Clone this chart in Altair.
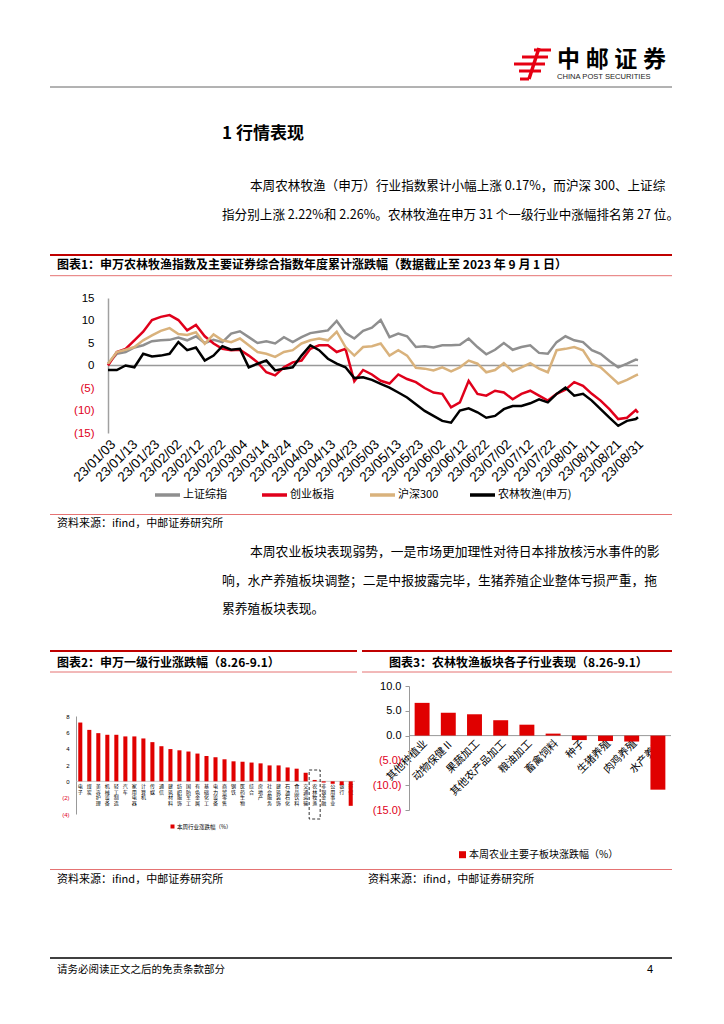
import altair as alt
import pandas as pd

FONT = "Noto Sans CJK SC"
LATIN = "Liberation Sans"

# ---------------- data: chart 1 (cumulative change, %) ----------------
dates = ["2023-01-03", "2023-01-07", "2023-01-11", "2023-01-15", "2023-01-19", "2023-01-23",
         "2023-01-27", "2023-01-31", "2023-02-04", "2023-02-08", "2023-02-12", "2023-02-16",
         "2023-02-20", "2023-02-24", "2023-02-28", "2023-03-04", "2023-03-08", "2023-03-12",
         "2023-03-16", "2023-03-20", "2023-03-24", "2023-03-28", "2023-04-01", "2023-04-05",
         "2023-04-09", "2023-04-13", "2023-04-17", "2023-04-21", "2023-04-25", "2023-04-29",
         "2023-05-03", "2023-05-07", "2023-05-11", "2023-05-15", "2023-05-19", "2023-05-23",
         "2023-05-27", "2023-05-31", "2023-06-04", "2023-06-08", "2023-06-12", "2023-06-16",
         "2023-06-20", "2023-06-24", "2023-06-28", "2023-07-02", "2023-07-06", "2023-07-10",
         "2023-07-14", "2023-07-18", "2023-07-22", "2023-07-26", "2023-07-30", "2023-08-03",
         "2023-08-07", "2023-08-11", "2023-08-15", "2023-08-19", "2023-08-23", "2023-08-27",
         "2023-08-31", "2023-09-01"]
sh_composite = [0.4, 2.6, 3.0, 4.0, 4.5, 5.4, 5.6, 5.7, 6.2, 5.6,
                6.5, 5.0, 5.7, 5.2, 7.1, 7.6, 6.3, 5.0, 5.4, 4.9,
                6.3, 5.2, 6.3, 7.2, 7.5, 7.8, 9.9, 7.2, 6.0, 7.7,
                8.4, 10.1, 6.3, 7.1, 6.5, 4.1, 4.3, 4.0, 4.5, 4.5,
                4.6, 6.0, 4.1, 2.5, 3.5, 5.0, 3.5, 4.1, 4.5, 2.8,
                2.6, 5.2, 6.5, 5.6, 5.2, 3.4, 2.6, 1.0, -0.4, 0.4,
                1.3, 1.2]
chinext = [0.0, 3.0, 3.7, 5.6, 7.5, 10.1, 10.8, 11.2, 10.1, 7.8,
           9.0, 6.5, 4.9, 3.7, 3.4, 3.5, 2.2, 0.7, -1.5, -2.2,
           -0.4, 0.7, 1.1, 3.7, 4.5, 4.5, 3.0, 3.7, -3.5, -1.0,
           -2.0, -3.4, -4.0, -2.0, -3.0, -3.7, -5.0, -6.0, -6.3, -9.3,
           -8.2, -3.4, -6.3, -6.7, -5.6, -6.0, -7.5, -6.3, -5.6, -6.7,
           -7.8, -6.3, -5.4, -3.7, -4.5, -6.3, -7.8, -9.7, -11.9, -11.6,
           -9.9, -10.5]
csi300 = [0.4, 3.0, 3.5, 4.1, 5.6, 6.7, 7.7, 8.3, 7.0, 6.8,
          7.4, 4.8, 6.9, 5.6, 5.2, 6.0, 4.5, 3.0, 2.6, 1.9,
          3.0, 3.4, 4.9, 5.6, 6.0, 5.6, 7.5, 4.1, 2.2, 4.1,
          4.3, 4.9, 2.2, 3.4, 2.2, -0.5, -0.7, -1.1, -0.4, -1.3,
          -0.4, 1.1, 0.4, -1.5, -1.0, 0.5, -1.3, -0.4, 0.5, -0.7,
          -1.5, 3.4, 3.7, 4.1, 3.4, 0.4, -0.4, -2.2, -4.0, -3.2,
          -2.2, -2.0]
agri_sw = [-1.0, -1.0, 0.0, -0.4, 2.6, 2.0, 2.2, 2.6, 5.2, 3.4,
           4.0, 1.1, 2.2, 4.3, 3.5, 3.7, -0.4, 0.4, 1.1, -1.1,
           -0.7, -0.4, 2.2, 4.5, 3.4, 1.5, 0.4, -0.4, -2.8, -2.6,
           -3.2, -4.1, -4.9, -6.0, -7.1, -8.6, -10.1, -11.2, -12.3, -12.7,
           -10.0, -9.5, -10.4, -11.6, -11.2, -9.7, -9.0, -9.0, -8.4, -7.5,
           -8.2, -6.3, -4.9, -6.7, -6.3, -7.8, -9.7, -11.6, -13.4, -12.3,
           -11.9, -11.5]
series_names = ["上证综指", "创业板指", "沪深300", "农林牧渔(申万)"]
series_colors = ["#8f8f8f", "#e0001b", "#d9b27c", "#000000"]
tick_dates = ["2023-01-03", "2023-01-13", "2023-01-23", "2023-02-02", "2023-02-12",
              "2023-02-22", "2023-03-04", "2023-03-14", "2023-03-24", "2023-04-03",
              "2023-04-13", "2023-04-23", "2023-05-03", "2023-05-13", "2023-05-23",
              "2023-06-02", "2023-06-12", "2023-06-22", "2023-07-02", "2023-07-12",
              "2023-07-22", "2023-08-01", "2023-08-11", "2023-08-21", "2023-08-31"]

# ---------------- data: chart 2 (SW level-1 industries, %) ----------------
industries = ["电子", "煤炭", "美容护理", "机械设备", "轻工制造", "汽车", "家用电器", "计算机",
              "传媒", "通信", "建筑材料", "纺织服饰", "国防军工", "有色金属", "基础化工",
              "电力设备", "商贸零售", "钢铁", "医药生物", "综合", "房地产", "社会服务",
              "建筑装饰", "石油石化", "食品饮料", "交通运输", "农林牧渔", "非银金融",
              "公用事业", "银行", "环保"]
industry_chg = [7.2, 6.3, 5.9, 5.7, 5.7, 5.5, 5.5, 5.25, 4.8, 4.3, 3.95, 3.8, 3.65, 3.4,
                3.1, 2.95, 2.7, 2.45, 2.4, 2.3, 2.2, 1.95, 1.95, 1.7, 1.55, 1.05, 0.17,
                -0.15, -0.3, -0.45, -3.0]

# ---------------- data: chart 3 (agri sub-sectors, %) ----------------
subsectors = ["其他种植业", "动物保健Ⅱ", "果蔬加工", "其他农产品加工", "粮油加工",
              "畜禽饲料", "种子", "生猪养殖", "肉鸡养殖", "水产养殖"]
subsector_chg = [6.6, 4.6, 4.3, 3.1, 2.2, 0.4, -0.9, -1.1, -1.2, -10.9]


def dt(s):
    y, m, d = s.split("-")
    return alt.DateTime(year=int(y), month=int(m), date=int(d))


def spacer(w, h):
    return alt.Chart(pd.DataFrame({"a": [0]})).mark_point(opacity=0).properties(width=w, height=h)


# ---------------- page decorations & text ----------------
def text_layer(rows, bold=False, font=FONT):
    df = pd.DataFrame(rows, columns=["x", "y", "t", "s", "c"])
    return alt.Chart(df).mark_text(align="left", baseline="middle", font=font,
                                   fontWeight="bold" if bold else "normal").encode(
        x=alt.X("x:Q", scale=None, axis=None),
        y=alt.Y("y:Q", scale=None, axis=None),
        text="t:N",
        size=alt.Size("s:Q", scale=None, legend=None),
        color=alt.Color("c:N", scale=None, legend=None),
    )


# legend of chart 1 (line swatch start x)
legend_x = [147, 254, 362, 462]
legend_y = 484

body = [
    [242, 175, "本周农林牧渔（申万）行业指数累计小幅上涨 0.17%，而沪深 300、上证综", 12.6, "#000"],
    [214, 204, "指分别上涨 2.22%和 2.26%。农林牧渔在申万 31 个一级行业中涨幅排名第 27 位。", 12.6, "#000"],
    [242, 541, "本周农业板块表现弱势，一是市场更加理性对待日本排放核污水事件的影", 12.8, "#000"],
    [214, 570, "响，水产养殖板块调整；二是中报披露完毕，生猪养殖企业整体亏损严重，拖", 12.8, "#000"],
    [214, 598, "累养殖板块表现。", 12.8, "#000"],
    [49, 513, "资料来源：ifind，中邮证券研究所", 11, "#000"],
    [49, 869, "资料来源：ifind，中邮证券研究所", 11, "#000"],
    [360, 869, "资料来源：ifind，中邮证券研究所", 11, "#000"],
    [49, 959, "请务必阅读正文之后的免责条款部分", 10.5, "#000"],
    [169, 815.5, "本周行业涨跌幅（%）", 5.5, "#000"],
    [461, 843.7, "本周农业主要子板块涨跌幅（%）", 10, "#000"],
] + [[lx + 28, legend_y, nm, 11, "#000"] for lx, nm in zip(legend_x, series_names)]
bold_text = [
    [549, 49, "中", 23, "#000"], [577.7, 49, "邮", 23, "#000"],
    [606.3, 49, "证", 23, "#000"], [635, 49, "券", 23, "#000"],
    [214, 123, "1 行情表现", 17, "#000"],
    [49, 253.7, "图表1：申万农林牧渔指数及主要证券综合指数年度累计涨跌幅（数据截止至 2023 年 9 月 1 日）", 12, "#000"],
    [49, 651.5, "图表2：申万一级行业涨跌幅（8.26-9.1）", 12, "#000"],
    [381, 651.5, "图表3：农林牧渔板块各子行业表现（8.26-9.1）", 12, "#000"],
]
latin_text = [
    [549, 66, "CHINA POST SECURITIES", 7.6, "#222"],
    [639, 959, "4", 11, "#000"],
]

rules_df = pd.DataFrame([
    [42, 664, 76, 76, 1, "#666666"],
    [42, 664, 244, 244, 2.2, "#c00000"],
    [42, 664, 264.7, 264.7, 1, "#e57373"],
    [42, 664, 503.5, 503.5, 1, "#e57373"],
    [42, 349, 640, 640, 2.2, "#c00000"],
    [354, 664, 640, 640, 2.2, "#c00000"],
    [42, 349, 661, 661, 1, "#e57373"],
    [354, 664, 661, 661, 1, "#e57373"],
    [42, 664, 858.5, 858.5, 1, "#e57373"],
    [42, 664, 947, 947, 1.5, "#000000"],
    # logo strokes
    [526, 543, 39, 39, 3, "#e60012"],
    [514, 540, 46, 46, 3, "#e60012"],
    [506, 537, 53, 53, 3, "#e60012"],
    [511, 533, 60, 60, 3, "#e60012"],
    [531, 521, 37, 68, 3.5, "#e60012"],
    [521, 512, 68, 68, 3, "#e60012"],
] + [[lx, lx + 25, legend_y, legend_y, 3.5, c] for lx, c in zip(legend_x, series_colors)],
    columns=["x", "x2", "y", "y2", "w", "c"])

rules = alt.Chart(rules_df).mark_rule().encode(
    x=alt.X("x:Q", scale=None, axis=None), x2="x2:Q",
    y=alt.Y("y:Q", scale=None, axis=None), y2="y2:Q",
    strokeWidth=alt.StrokeWidth("w:Q", scale=None, legend=None),
    color=alt.Color("c:N", scale=None, legend=None),
)

sq_df = pd.DataFrame([[162.5, 166.5, 813.5, 817.5], [451, 458, 840.2, 847.2]],
                     columns=["x", "x2", "y", "y2"])
squares = alt.Chart(sq_df).mark_rect(color="#e00000").encode(
    x=alt.X("x:Q", scale=None, axis=None), x2="x2:Q",
    y=alt.Y("y:Q", scale=None, axis=None), y2="y2:Q",
)

page = alt.layer(rules, squares, text_layer(body), text_layer(bold_text, bold=True),
                 text_layer(latin_text, font=LATIN)).properties(width=708, height=287)

# ---------------- chart 1: line chart ----------------
n = len(dates)
line_df = pd.DataFrame({
    "date": pd.to_datetime(dates * 4),
    "series": [series_names[0]] * n + [series_names[1]] * n + [series_names[2]] * n + [series_names[3]] * n,
    "value": sh_composite + chinext + csi300 + agri_sw,
    "ord": [0] * n + [1] * n + [2] * n + [3] * n,
})

neg_paren = "datum.value < 0 ? '(' + (-datum.value) + ')' : '' + datum.value"
neg_color = alt.ExprRef(expr="datum.value < 0 ? '#e0001b' : '#000000'")

y1_axis = alt.Axis(values=[-15, -10, -5, 0, 5, 10, 15], labelExpr=neg_paren,
                   labelColor=neg_color, labelFont=LATIN, labelFontSize=11.5,
                   ticks=False, grid=False, domainColor="#a0a0a0", domainWidth=1.5,
                   labelPadding=14, title=None, labelOverlap=False, labelFlush=False)
y1_scale = alt.Scale(domain=[-15, 15], nice=False)

lines = alt.Chart(line_df).mark_line(strokeWidth=2.5).encode(
    x=alt.X("date:T", scale=alt.Scale(domain=[dt("2023-01-03"), dt("2023-09-01")]),
            axis=alt.Axis(values=[dt(s) for s in tick_dates], format="%y/%m/%d", labelAngle=-45,
                          labelFont=LATIN, labelFontSize=13.5, labelColor="#000", ticks=False,
                          domain=False, grid=False, title=None, labelPadding=4,
                          labelOverlap=False, labelFlush=False)),
    y=alt.Y("value:Q", scale=y1_scale, axis=y1_axis),
    color=alt.Color("series:N", scale=alt.Scale(domain=series_names, range=series_colors),
                    legend=None),
    order=alt.Order("ord:Q"),
)
zero1 = alt.Chart(pd.DataFrame({"v": [0]})).mark_rule(color="#999999", strokeWidth=1.3).encode(
    y=alt.Y("v:Q", scale=y1_scale, axis=y1_axis))
line_chart = alt.layer(zero1, lines).properties(width=530, height=135)

# ---------------- chart 2: industries bar ----------------
ind_df = pd.DataFrame({"ind": industries, "chg": industry_chg})
x2 = alt.X("ind:N", sort=industries, scale=alt.Scale(paddingInner=0.55, paddingOuter=0.25),
           axis=alt.Axis(labelAngle=0, labelExpr="split(datum.label, '')", labelFont=FONT,
                         labelFontSize=5, labelLineHeight=5.6, labelBaseline="top",
                         labelAlign="center", ticks=False, domain=False, offset=-32.5,
                         labelPadding=2, title=None, labelOverlap=False, labelColor="#000"))
y2_axis = alt.Axis(values=[-4, -2, 0, 2, 4, 6, 8], labelExpr=neg_paren, labelColor=neg_color,
                   labelFont=LATIN, labelFontSize=6, ticks=False, grid=False,
                   domainColor="#999999", labelPadding=7, title=None,
                   labelOverlap=False, labelFlush=False)
y2_scale = alt.Scale(domain=[-4, 8], nice=False)
bars2 = alt.Chart(ind_df).mark_bar(color="#e00000").encode(
    x=x2, y=alt.Y("chg:Q", scale=y2_scale, axis=y2_axis))
zero2 = alt.Chart(pd.DataFrame({"v": [0]})).mark_rule(color="#bbbbbb", strokeWidth=0.8).encode(
    y=alt.Y("v:Q", scale=y2_scale, axis=y2_axis))
box2 = alt.Chart(pd.DataFrame({"ind": ["农林牧渔"]})).mark_bar(
    filled=False, stroke="#000", strokeDash=[3, 2], strokeWidth=0.8, width=11).encode(
    x=alt.X("ind:N", sort=industries), y=alt.value(54), y2=alt.value(103))
chart2 = alt.layer(zero2, bars2, box2).properties(width=279, height=98)

# ---------------- chart 3: sub-sectors bar ----------------
sub_df = pd.DataFrame({"sub": subsectors, "chg": subsector_chg})
y3_axis = alt.Axis(values=[-15, -10, -5, 0, 5, 10],
                   labelExpr="datum.value < 0 ? '(' + format(-datum.value, '.1f') + ')' : format(datum.value, '.1f')",
                   labelColor=neg_color, labelFont=LATIN, labelFontSize=11,
                   tickSize=4, tickColor="#999999", grid=False,
                   domainColor="#999999", labelPadding=4, title=None,
                   labelOverlap=False, labelFlush=False)
y3_scale = alt.Scale(domain=[-15, 10], nice=False)
bars3 = alt.Chart(sub_df).mark_bar(color="#e00000").encode(
    x=alt.X("sub:N", sort=subsectors, scale=alt.Scale(paddingInner=0.43, paddingOuter=0.215),
            axis=alt.Axis(labelAngle=-45, labelFont=FONT, labelFontSize=10.5, ticks=False,
                          domain=False, offset=-75, labelPadding=3, title=None,
                          labelOverlap=False, labelColor="#000")),
    y=alt.Y("chg:Q", scale=y3_scale, axis=y3_axis),
)
zero3 = alt.Chart(pd.DataFrame({"v": [0]})).mark_rule(color="#999999", strokeWidth=1).encode(
    y=alt.Y("v:Q", scale=y3_scale, axis=y3_axis))
chart3 = alt.layer(zero3, bars3).properties(width=262, height=124)

# nested concats count as zero-size inside a "flush" concat, spacers set the offsets
chart = alt.hconcat(
    alt.vconcat(page, spacing=0, bounds="flush"),
    spacer(68, 1),
    alt.vconcat(spacer(279, 705), chart2, spacing=0, bounds="flush"),
    spacer(32, 1),
    alt.vconcat(spacer(530, 287), line_chart, spacing=0, bounds="flush"),
    spacer(301, 1),
    alt.vconcat(spacer(262, 675), chart3, spacing=0, bounds="flush"),
    spacing=0, bounds="flush",
).resolve_scale(color="independent").properties(padding=0).configure_view(
    stroke=None).configure_axis(labelOverlap=False)

chart.save("out.html", embed_options={"renderer": "svg", "actions": False})
